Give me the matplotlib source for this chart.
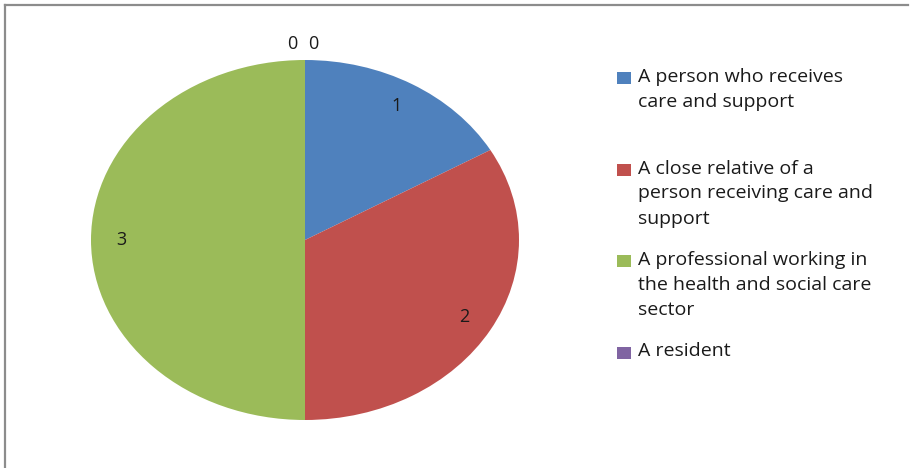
import matplotlib.pyplot as plt
import numpy as np
from matplotlib.patches import Rectangle
from matplotlib.lines import Line2D

categories = ['A person who receives\ncare and support',
              'A close relative of a\nperson receiving care and\nsupport',
              'A professional working in\nthe health and social care\nsector',
              'A resident',
              '']
values = [1, 2, 3, 0, 0]
colors = ['#4F81BD', '#C0504D', '#9BBB59', '#8064A2', '#4BACC6']

W, H = 918, 468
fig = plt.figure(figsize=(W / 100, H / 100), dpi=100)
plt.rcParams['font.family'] = ['Open Sans', 'DejaVu Sans']

# frame of the chart area (top and left edges only visible)
fig.add_artist(Line2D([5 / W, 5 / W], [0, 1 - 5 / H], transform=fig.transFigure,
                      color='#8C8C8C', lw=1.6))
fig.add_artist(Line2D([5 / W, 908 / W], [1 - 5 / H, 1 - 5 / H], transform=fig.transFigure,
                      color='#8C8C8C', lw=1.6))

# pie drawn as an ellipse: axes is 428 x 360 px
cx, cy, rx, ry = 305, 240, 214, 180
ax = fig.add_axes([(cx - rx) / W, 1 - (cy + ry) / H, 2 * rx / W, 2 * ry / H])
wedges, _ = ax.pie(values, colors=colors, startangle=90, counterclock=False,
                   radius=1, wedgeprops=dict(linewidth=0))
ax.set_aspect('auto')
ax.set_xlim(-1, 1)
ax.set_ylim(-1, 1)
ax.axis('off')

# data labels
total = sum(values)
start = 0.0
zero_k = 0
for v in values:
    theta = np.deg2rad(90 - (start + v / 2) / total * 360)
    if v > 0:
        r = 0.86
        ax.text(r * np.cos(theta), r * np.sin(theta), str(v), ha='center', va='center',
                fontsize=13, color='#1a1a1a')
    else:
        off = [-0.06, 0.04][zero_k]
        zero_k += 1
        ax.text(off, 1.09, str(v), ha='center', va='center',
                fontsize=13, color='#1a1a1a', clip_on=False)
    start += v

# legend
line_h = 25
for i, lab in enumerate(categories[:4]):
    base = 82 + i * 91.5
    fig.add_artist(Rectangle((617 / W, 1 - (base + 2) / H), 14 / W, 12 / H,
                             transform=fig.transFigure, color=colors[i], lw=0))
    # va='baseline' anchors the last line, so push down by the extra lines
    last = base + line_h * lab.count('\n')
    fig.text(638 / W, 1 - last / H, lab, ha='left', va='baseline', fontsize=14,
             color='#1a1a1a', linespacing=1.5)

fig.savefig('out.png', dpi=100)
